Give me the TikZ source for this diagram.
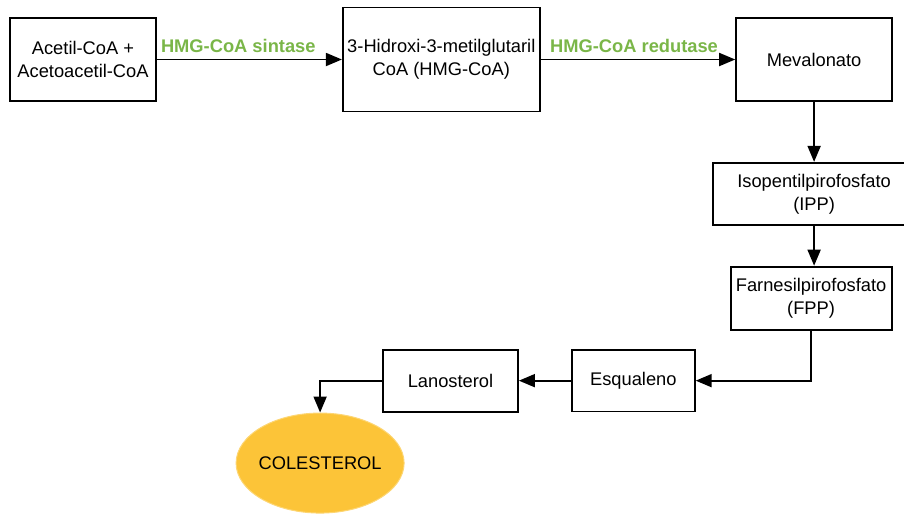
\documentclass[tikz,border=0pt]{standalone}
\usepackage{fontspec}
\setmainfont{Liberation Sans}
\usetikzlibrary{arrows.meta, positioning, shapes.geometric}
\definecolor{enzgreen}{HTML}{7AB648}
\definecolor{colorange}{HTML}{FCC438}
\tikzset{
  box/.style = {rectangle, draw=black, line width=1.8pt, align=center, inner sep=2pt, font=\fontsize{18.3}{23}\selectfont},
  arr/.style = {-{Triangle[length=16pt, width=13pt]}, line width=1.8pt},
  enz/.style = {font=\fontsize{18.3}{22}\selectfont\bfseries, text=enzgreen, inner sep=1pt},
  goal/.style = {ellipse, fill=colorange, draw=colorange!70!white, line width=1pt, inner xsep=-3pt, minimum width=168pt, minimum height=100pt, font=\fontsize{18.3}{22}\selectfont}
}

\begin{document}
\begin{tikzpicture}[x=1pt, y=-1pt]
\path[use as bounding box] (0,0) rectangle (904,515);
\clip (0,0) rectangle (904,515);
% Row 1 (→)
\node[box, minimum width=146pt, minimum height=83pt] (cn1) at (83,59.5) {Acetil-CoA +\\Acetoacetil-CoA};
\node[box, minimum width=197pt, minimum height=104pt, right=185pt of cn1] (cn2) {3-Hidroxi-3-metilglutaril\\CoA (HMG-CoA)};
\node[box, minimum width=156pt, minimum height=83pt, right=194.5pt of cn2] (cn3) {Mevalonato};

% Column (↓)
\node[box, minimum width=203pt, minimum height=62pt, below=60pt of cn3] (cn4) {Isopentilpirofosfato\\(IPP)};
\node[box, minimum width=161pt, minimum height=63pt, below=40pt of cn4, xshift=-3pt] (cn5) {Farnesilpirofosfato\\(FPP)};

% Row 2 (←)
\node[box, minimum width=123pt, minimum height=61.5pt, below left=18.5pt and 34pt of cn5] (cn6) {Esqualeno};
\node[box, minimum width=135pt, minimum height=62pt, left=52pt of cn6] (cn7) {Lanosterol};
\node[goal, anchor=north] (cn8) at ([xshift=-62pt]cn7.south west) {COLESTEROL};

% ----- ARROWS -----
% Row1 →
\draw[arr] (cn1.east) -- node[enz, above=5pt, pos=0.44] {HMG-CoA sintase} (cn2.west);
\draw[arr] (cn2.east) -- node[enz, above=5pt, pos=0.48] {HMG-CoA redutase} (cn3.west);
% Down
\draw[arr] (cn3.south) -- (cn4.north);
\draw[arr] (cn4.south) -- (cn4.south |- cn5.north);
% Back to row2
\draw[arr] (cn5.south) |- (cn6.east);
% Row2 ←
\draw[arr] (cn6.west) -- (cn7.east);
% Down to end
\draw[arr] (cn7.west) -| (cn8.north);

\end{tikzpicture}
\end{document}
